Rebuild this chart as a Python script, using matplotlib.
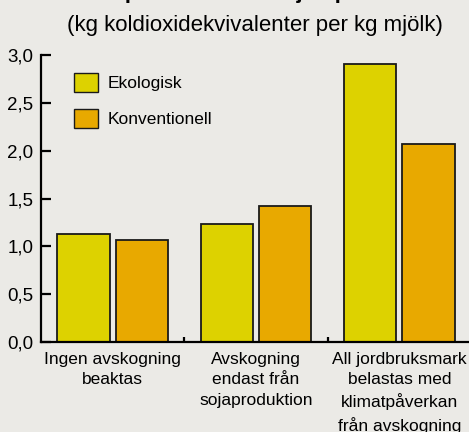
import numpy as np
import matplotlib.pyplot as plt
from matplotlib.patches import Patch

# ---------------------------
# Data
# ---------------------------
categories = [
    "Ingen avskogning\nbeaktas",
    "Avskogning\nendast från\nsojaproduktion",
    "All jordbruksmark\nbelastas med\nklimatpåverkan\nfrån avskogning",
]
ekologisk = [1.13, 1.23, 2.91]
konventionell = [1.07, 1.42, 2.07]
series_names = ["Ekologisk", "Konventionell"]
yticks = [0.0, 0.5, 1.0, 1.5, 2.0, 2.5, 3.0]
ytick_labels = ["0,0", "0,5", "1,0", "1,5", "2,0", "2,5", "3,0"]

title = "Klimatpåverkan från mjölkproduktion"
subtitle = "(kg koldioxidekvivalenter per kg mjölk)"

# ---------------------------
# Style
# ---------------------------
bg = "#EBEAE6"
col_eko = "#DDD200"
col_konv = "#E8A900"
edge = "#1a1a1a"
plt.rcParams["font.family"] = ["Liberation Sans", "DejaVu Sans"]

fig = plt.figure(figsize=(4.69, 4.32), dpi=100, facecolor=bg)
ax = fig.add_axes([41 / 469, 1 - 342 / 432, 430 / 469, (342 - 55) / 432])
ax.set_facecolor(bg)

x = np.arange(len(categories))
w = 0.364
off = 0.203
ax.bar(x - off, ekologisk, w, color=col_eko, edgecolor=edge, linewidth=1.3)
ax.bar(x + off, konventionell, w, color=col_konv, edgecolor=edge, linewidth=1.3)

ax.set_xlim(-0.5, 2.5)
ax.set_ylim(0, 3.0)

for s in ["top", "right"]:
    ax.spines[s].set_visible(False)
for s in ["left", "bottom"]:
    ax.spines[s].set_linewidth(1.6)
    ax.spines[s].set_color("black")

ax.set_yticks(yticks)
ax.set_yticklabels(ytick_labels, fontsize=13.5)
ax.tick_params(axis="y", direction="in", length=7.5, width=1.6, pad=5.5)

ax.set_xticks(x)
ax.set_xticklabels(categories, fontsize=12.5, linespacing=1.45)
ax.tick_params(axis="x", which="major", length=0, pad=7)
ax.set_xticks([0.5, 1.5], minor=True)
ax.tick_params(axis="x", which="minor", direction="in", length=3.5, width=1.6)

handles = [
    Patch(facecolor=col_eko, edgecolor=edge, linewidth=1.0),
    Patch(facecolor=col_konv, edgecolor=edge, linewidth=1.0),
]
ax.legend(handles, series_names, loc="upper left",
          bbox_to_anchor=(74 / 469, 1 - 73 / 432), bbox_transform=fig.transFigure,
          frameon=False, fontsize=12.5, handlelength=1.38, handleheight=1.33,
          labelspacing=0.95, handletextpad=0.55, borderpad=0, borderaxespad=0)

# title is cut off at the top of the picture
fig.text(0.54, 1 + 2 / 432, title, ha="center", va="baseline",
         fontsize=16, fontweight="bold")
fig.text(255 / 469, 1 - 25 / 432, subtitle, ha="center", va="center",
         fontsize=16)

fig.savefig("out.png", dpi=100, facecolor=bg)
